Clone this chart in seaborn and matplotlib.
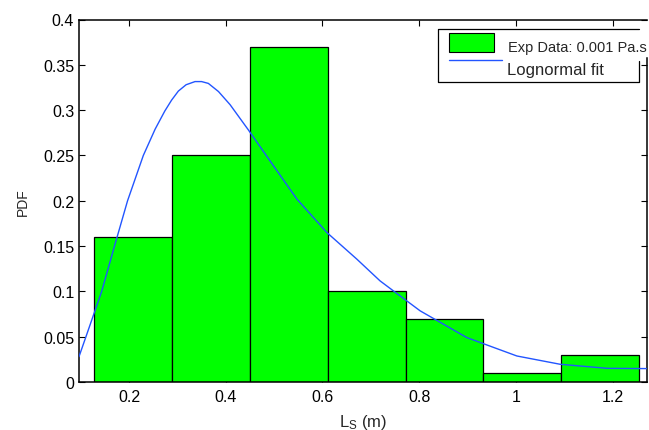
import numpy as np
import pandas as pd
import matplotlib
matplotlib.use("Agg")
import matplotlib.pyplot as plt
import seaborn as sns
from matplotlib.patches import Rectangle
from matplotlib.lines import Line2D
from matplotlib.transforms import Affine2D

# Histogram of slug lengths (probability per bin)
bin_edges = [0.128, 0.289, 0.450, 0.611, 0.772, 0.932, 1.093, 1.254]
bin_heights = [0.16, 0.25, 0.37, 0.10, 0.07, 0.01, 0.03]

# Lognormal fit curve
fit_x = [0.0966, 0.111, 0.1435, 0.170, 0.197, 0.2296, 0.254, 0.274, 0.288, 0.302,
         0.318, 0.3365, 0.35, 0.364, 0.385, 0.409, 0.447, 0.4985, 0.547, 0.609,
         0.671, 0.719, 0.7605, 0.802, 0.8985, 1.002, 1.091, 1.188, 1.27]
fit_y = [0.028, 0.050, 0.100, 0.150, 0.200, 0.250, 0.279, 0.299, 0.311, 0.321,
         0.328, 0.3315, 0.3315, 0.3295, 0.3205, 0.306, 0.278, 0.2387, 0.2019, 0.165,
         0.1356, 0.1116, 0.095, 0.0785, 0.049, 0.0287, 0.0196, 0.0151, 0.0148]

x_ticks = [0.2, 0.4, 0.6, 0.8, 1.0, 1.2]
x_tick_labels = ["0.2", "0.4", "0.6", "0.8", "1", "1.2"]
y_ticks = [0, 0.05, 0.1, 0.15, 0.2, 0.25, 0.3, 0.35, 0.4]
y_tick_labels = ["0", "0.05", "0.1", "0.15", "0.2", "0.25", "0.3", "0.35", "0.4"]
legend_labels = ["Exp Data: 0.001 Pa.s", "Lognormal fit"]

sns.set_style("ticks")
plt.rcParams["font.family"] = ["Liberation Sans", "DejaVu Sans"]
plt.rcParams["mathtext.fontset"] = "custom"
plt.rcParams["mathtext.rm"] = "Liberation Sans"
plt.rcParams["mathtext.it"] = "Liberation Sans"

W, H = 649, 431
fig = plt.figure(figsize=(W / 100, H / 100), dpi=100)
ax = fig.add_axes([79 / W, (H - 383) / H, (647 - 79) / W, (383 - 20.5) / H])

edges = np.array(bin_edges)
centers = (edges[:-1] + edges[1:]) / 2
hist_df = pd.DataFrame({"x": centers, "w": bin_heights})
sns.histplot(data=hist_df, x="x", weights="w", bins=bin_edges, stat="count",
             color="#00ff00", edgecolor="black", linewidth=0.9, alpha=1.0, ax=ax)

fit_df = pd.DataFrame({"x": fit_x, "y": fit_y})
sns.lineplot(data=fit_df, x="x", y="y", sort=False, estimator=None,
             color="#2255ff", linewidth=1.0, ax=ax, zorder=3)

ax.set_xlim(0.0966, 1.271)
ax.set_ylim(0, 0.4)
ax.set_xticks(x_ticks)
ax.set_xticklabels(x_tick_labels)
ax.set_yticks(y_ticks)
ax.set_yticklabels(y_tick_labels)
ax.tick_params(direction="in", top=True, right=True, length=4, width=0.8,
               labelsize=11.5, colors="black")
ax.tick_params(axis="x", pad=5)

for s in ax.spines.values():
    s.set_linewidth(1.1)
    s.set_color("black")
ax.spines["right"].set_bounds(0, 0.357)

ax.set_xlabel(r"L$_\mathregular{S}$ (m)", fontsize=12)
ax.set_ylabel("PDF", fontsize=10)
ax.xaxis.set_label_coords(0.5, -(413 - 383) / 362.5)
ax.yaxis.set_label_coords((30 - 79) / 568, 0.5)

# Legend box drawn in pixel space from the top-left corner of the figure
pix = Affine2D().scale(1 / W, -1 / H).translate(0, 1) + fig.transFigure
fig.add_artist(Line2D([639, 639, 438, 438, 639], [61.5, 83, 83, 29.5, 29.5],
                      color="black", linewidth=0.9, transform=pix))
fig.add_artist(Rectangle((449, 34), 45, 18.7, facecolor="#00ff00",
                         edgecolor="black", linewidth=0.8, transform=pix))
fig.add_artist(Line2D([449, 501.7], [60.7, 60.7], color="#2255ff",
                      linewidth=1.0, transform=pix))
fig.text(508, 51.7, legend_labels[0], fontsize=10.5, va="baseline",
         ha="left", transform=pix)
fig.text(507, 75, legend_labels[1], fontsize=12, va="baseline",
         ha="left", transform=pix)

fig.savefig("out.png", dpi=100)
